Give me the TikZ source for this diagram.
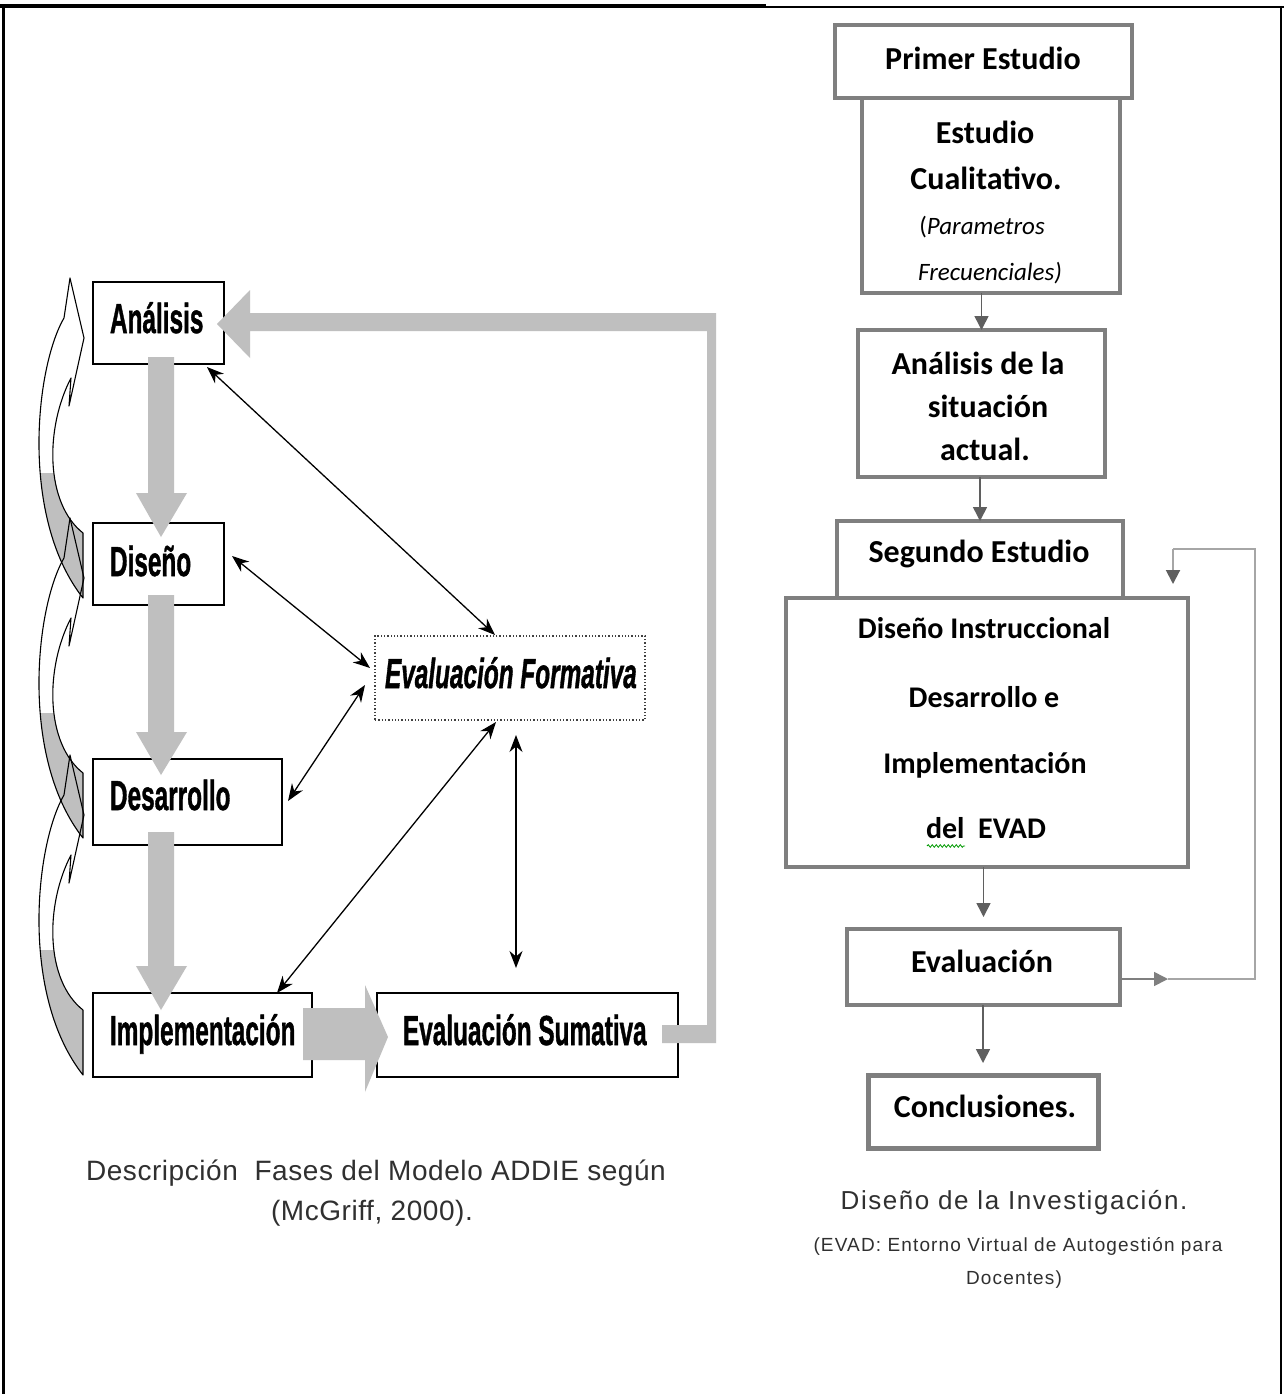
\documentclass[tikz,border=0pt]{standalone}
\usepackage{fontspec}
\usepackage{graphicx}
\setmainfont{Liberation Sans}
\newfontfamily\addiefont{Liberation Sans}[BoldFeatures={FakeBold=1.3}, BoldItalicFeatures={FakeBold=1.3}]
\newfontfamily\carl{Carlito}
\newfontfamily\capfontL{Liberation Sans}[LetterSpace=2]
\newfontfamily\capfontR{Liberation Sans}[LetterSpace=6]
\usetikzlibrary{arrows.meta,calc,decorations.pathmorphing}
\definecolor{blockgray}{HTML}{BFBFBF}
\definecolor{boxgray}{HTML}{7F7F7F}
\definecolor{arrgray}{HTML}{5F5F5F}
\definecolor{loopgray}{HTML}{A6A6A6}
\definecolor{capcol}{HTML}{303030}
\newcommand{\nar}[1]{\scalebox{0.58}[1]{#1}}
\newcommand{\curvarrow}[1]{%
  \begin{scope}[shift={(0,#1)}]
    \begin{scope}
      \clip (0,195) rectangle (90,330);
      \fill[blockgray] (83,255) .. controls (45,225) and (45,150) .. (71,100) -- (64,40)
        .. controls (35,90) and (20,240) .. (83,320) -- cycle;
    \end{scope}
    \draw[line width=1.1pt, line join=round] (70,0) -- (84,60) -- (69,128) -- (71,100)
      .. controls (45,150) and (45,225) .. (83,255) -- (83,320)
      .. controls (20,240) and (35,90) .. (64,40) -- cycle;
  \end{scope}}
\newcommand{\vblock}[3]{%
  \fill[blockgray] (148,#1) -- (174,#1) -- (174,#2) -- (187,#2) -- (161,#3) -- (136,#2) -- (148,#2) -- cycle;}
\tikzset{
  abox/.style={draw=black, line width=1.6pt, fill=white, anchor=north west},
  fbox/.style={draw=black!75, dotted, line width=1.3pt, fill=white, anchor=north west},
  atext/.style={anchor=base west, font=\addiefont\bfseries\fontsize{42}{48}\selectfont},
  tarr/.style={line width=1.3pt, {Stealth[length=17pt,width=13pt]}-{Stealth[length=17pt,width=13pt]}},
  rbox/.style={draw=boxgray, line width=4.5pt, fill=white, anchor=north west},
  rtext/.style={anchor=base, font=\carl\bfseries\fontsize{32}{38}\selectfont},
  rtexts/.style={anchor=base, font=\carl\bfseries\fontsize{30}{36}\selectfont},
  rital/.style={anchor=base, font=\carl\fontsize{25}{30}\selectfont},
  rarr/.style={draw=arrgray, line width=1.6pt, -{Triangle[length=14pt,width=14pt]}},
  loopline/.style={draw=loopgray, line width=2pt},
  capL/.style={anchor=base, text=capcol, font=\capfontL\fontsize{28}{34}\selectfont},
  capR/.style={anchor=base, text=capcol, font=\capfontR\fontsize{26}{32}\selectfont},
  capRs/.style={anchor=base, text=capcol, font=\capfontR\fontsize{19}{24}\selectfont}
}
\begin{document}
\begin{tikzpicture}[x=1pt,y=-1pt, every node/.style={inner sep=0pt, outer sep=0pt}]
\useasboundingbox (0,0) rectangle (1284,1394);
\fill[white] (0,0) rectangle (1284,1394);
% frame
\draw[line width=4pt] (0,6) -- (766,6);
\draw[line width=2pt] (766,7) -- (1284,7);
\draw[line width=3pt] (3.5,5) -- (3.5,1394);
\draw[line width=2.5pt] (1281,6) -- (1281,1394);

% ---------------- left: ADDIE ----------------
\curvarrow{278}
\curvarrow{518}
\curvarrow{755}

\node[abox, minimum width=131pt, minimum height=82pt] (ana) at (93,282) {};
\node[abox, minimum width=131pt, minimum height=82pt] (dis) at (93,523) {};
\node[abox, minimum width=189pt, minimum height=86pt] (des) at (93,759) {};
\node[abox, minimum width=219pt, minimum height=84pt] (imp) at (93,993) {};
\node[abox, minimum width=301pt, minimum height=84pt] (sum) at (377,993) {};
\node[fbox, minimum width=270pt, minimum height=84pt] (for) at (375,636) {};

\node[atext] (anaT) at (110,333) {\nar{Análisis}};
\node[atext] (disT) at (110,576) {\nar{Diseño}};
\node[atext] (desT) at (110,810) {\nar{Desarrollo}};
\node[atext] (impT) at (110,1045) {\nar{Implementación}};
\node[atext] (sumT) at (403,1045) {\nar{Evaluación Sumativa}};
\node[atext, font=\addiefont\bfseries\itshape\fontsize{42}{48}\selectfont] (forT) at (385,688) {\nar{Evaluación Formativa}};

% gray block arrows
\vblock{357}{493}{537}
\vblock{595}{732}{775}
\vblock{832}{966}{1010}
\fill[blockgray] (303,1008) -- (365,1008) -- (365,985) -- (388,1037) -- (365,1092) -- (365,1060) -- (303,1060) -- cycle;
\fill[blockgray] (662,1025) -- (707,1025) -- (707,331) -- (250,331) -- (250,358) -- (217,324)
  -- (250,290) -- (250,313) -- (716,313) -- (716,1043) -- (662,1043) -- cycle;

% thin double arrows
\draw[tarr] ($(ana.south east)+(-17,3)$) -- ($(for.north west)+(120,-1)$);
\draw[tarr] ($(dis.east)+(8,-8)$) -- ($(for.west)+(-5,-10)$);
\draw[tarr] ($(des.east)+(6,-1)$) -- ($(for.west)+(-10,7)$);
\draw[tarr] ($(imp.north east)+(-35,0)$) -- ($(for.south west)+(121,2)$);
\draw[tarr] ($(for.south west)+(141,15)$) -- ($(sum.north west)+(139,-25)$);

% ---------------- right: research design ----------------
\node[rbox, minimum width=258pt, minimum height=195pt] (cual) at (862,98) {};
\node[rbox, minimum width=297pt, minimum height=73pt] (prim) at (835,25) {};
\node[rbox, minimum width=247pt, minimum height=147pt] (an2) at (858,330) {};
\node[rbox, minimum width=402pt, minimum height=269pt, line width=4pt] (disI) at (786,598) {};
\node[rbox, minimum width=286pt, minimum height=77pt, line width=4pt] (seg) at (837,521) {};
\node[rbox, minimum width=273pt, minimum height=76pt] (ev) at (847,929) {};
\node[rbox, minimum width=230pt, minimum height=73pt, line width=5pt] (conc) at (868,1075) {};

\node[rtext] (primT) at (983,70) {Primer Estudio};
\node[rtext] (cualT1) at (985,143) {Estudio};
\node[rtext] (cualT2) at (986,189) {Cualitativo.};
\node[rital] (cualT3) at (982,234) {(\textit{Parametros}};
\node[rital] (cualT4) at (990,280) {\textit{Frecuenciales)}};
\node[rtext] (an2T1) at (978,374) {Análisis de la};
\node[rtext] (an2T2) at (988,417) {situación};
\node[rtext] (an2T3) at (985,460) {actual.};
\node[rtext] (segT) at (979,562) {Segundo Estudio};
\node[rtexts] (disT1) at (984,638) {Diseño Instruccional};
\node[rtexts] (disT2) at (984,707) {Desarrollo e};
\node[rtexts] (disT3) at (985,773) {Implementación};
\node[rtexts] (disT4) at (986,838) {del\ \ EVAD};
\draw[green!60!black, line width=0.8pt, decorate, decoration={snake, amplitude=1.3pt, segment length=4pt}]
  ($(disT4.base west)+(1,8)$) -- ($(disT4.base west)+(39,8)$);
\node[rtext] (evT) at (982,972) {Evaluación};
\node[rtext] (concT) at (985,1117) {Conclusiones.};

\draw[rarr] (cual.south -| an2.north) -- (an2.north);
\draw[rarr] (an2.south -| seg.north) -- (seg.north);
\draw[rarr, shorten >=12pt] (disI.south -| ev.north) -- (ev.north);
\draw[rarr, shorten >=12pt] (ev.south -| conc.north) -- (conc.north);

% feedback loop
\coordinate (lp1) at (1168,979);
\coordinate (lp2) at (1255,979);
\coordinate (lp3) at (1173,549);
\coordinate (lp4) at (1173,584);
\draw[rarr, draw=boxgray] ($(ev.east)+(0,12)$) -- (lp1);
\draw[loopline] (lp1) -- (lp2) |- (lp3);
\draw[loopline, -{Triangle[length=14pt,width=14pt,color=arrgray]}] (lp3) -- (lp4);

% captions
\node[capL] (cap1a) at (376,1180) {Descripción\ \ Fases del Modelo ADDIE según};
\node[capL] (cap1b) at (372,1220) {(McGriff, 2000).};
\node[capR] (cap2a) at (1014,1209) {Diseño de la Investigación.};
\node[capRs] (cap2b) at (1018,1251) {(EVAD: Entorno Virtual de Autogestión para};
\node[capRs] (cap2c) at (1014,1284) {Docentes)};
\end{tikzpicture}
\end{document}
